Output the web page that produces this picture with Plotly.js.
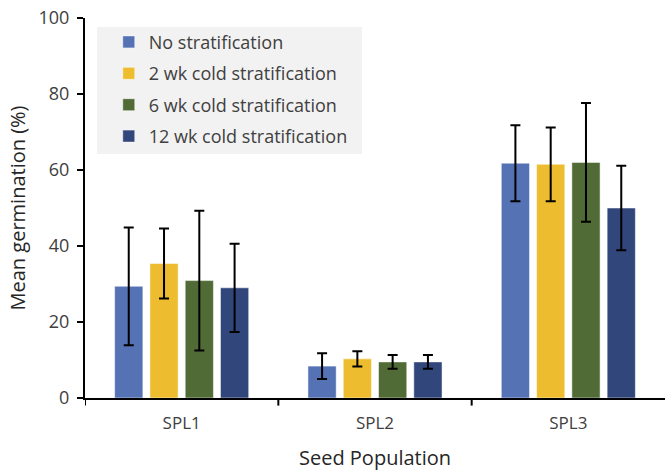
<!DOCTYPE html>
<html>
<head>
<meta charset="utf-8">
<script src="https://cdn.plot.ly/plotly-3.0.1.min.js"></script>
<style>html,body{margin:0;padding:0;background:#fff;}#chart{width:665px;height:472px;}</style>
</head>
<body>
<div id="chart"></div>
<script>
const categories = ["SPL1", "SPL2", "SPL3"];
const seriesNames = ["No stratification", "2 wk cold stratification", "6 wk cold stratification", "12 wk cold stratification"];
const noStrat = [29.4, 8.4, 61.8];
const noStratErr = [15.5, 3.4, 10.0];
const wk2 = [35.4, 10.3, 61.5];
const wk2Err = [9.2, 2.0, 9.7];
const wk6 = [30.9, 9.5, 62.0];
const wk6Err = [18.4, 1.8, 15.6];
const wk12 = [29.0, 9.5, 50.0];
const wk12Err = [11.6, 1.8, 11.1];
const colors = ["#5472B4", "#EDBD2F", "#506B36", "#31467A"];

const values = [noStrat, wk2, wk6, wk12];
const errs = [noStratErr, wk2Err, wk6Err, wk12Err];

const traces = values.map((v, i) => ({
  type: "bar",
  name: seriesNames[i],
  x: categories,
  y: v,
  legendgroup: "g" + i,
  marker: {color: colors[i], line: {color: "rgba(255,255,255,0.5)", width: 1}},
  error_y: {type: "data", array: errs[i], visible: true, color: "#000", thickness: 2, width: 5}
}));

const font = "'Open Sans', sans-serif";
const layout = {
  width: 665, height: 472,
  margin: {l: 85, r: 0, t: 18, b: 74},
  paper_bgcolor: "#fff", plot_bgcolor: "#fff",
  barmode: "group", bargap: 0.27, bargroupgap: 0.2,
  font: {family: font, color: "#404040", size: 15},
  showlegend: true,
  legend: {
    x: 0.041, y: 0.985, xanchor: "left", yanchor: "top",
    bgcolor: "rgba(0,0,0,0)", borderwidth: 0,
    font: {family: font, size: 18, color: "#404040"},
    traceorder: "grouped", tracegroupgap: 5,
    itemwidth: 30
  },
  xaxis: {
    type: "category", range: [-0.5, 2.5],
    showline: true, linecolor: "#000", linewidth: 2,
    ticks: "", showgrid: false, zeroline: false,
    ticklabelstandoff: 9,
    tickfont: {size: 17, color: "#404040"},
    title: {text: "Seed Population", font: {size: 20, color: "#262626"}, standoff: 18}
  },
  yaxis: {
    range: [0, 100], dtick: 20,
    showline: true, linecolor: "#000", linewidth: 2,
    ticks: "outside", ticklen: 6, tickcolor: "#000", tickwidth: 2,
    ticklabelstandoff: 4,
    showgrid: false, zeroline: false,
    tickfont: {size: 18, color: "#404040"},
    title: {text: "Mean germination (%)", font: {size: 20, color: "#262626"}, standoff: 8}
  },
  shapes: [{
    type: "rect", xref: "paper", yref: "paper", layer: "below",
    x0: 0.0207, x1: 0.4776, y0: 0.642, y1: 0.976,
    fillcolor: "#F2F2F2", line: {width: 0}
  }].concat([0, 1, 2].map(k => ({
    type: "line", xref: "x", yref: "paper",
    x0: k - 0.5, x1: k - 0.5, y0: 0, y1: -0.02,
    line: {color: "#000", width: 2}
  })))
};

Plotly.newPlot("chart", traces, layout, {displayModeBar: false, staticPlot: true});
</script>
</body>
</html>
